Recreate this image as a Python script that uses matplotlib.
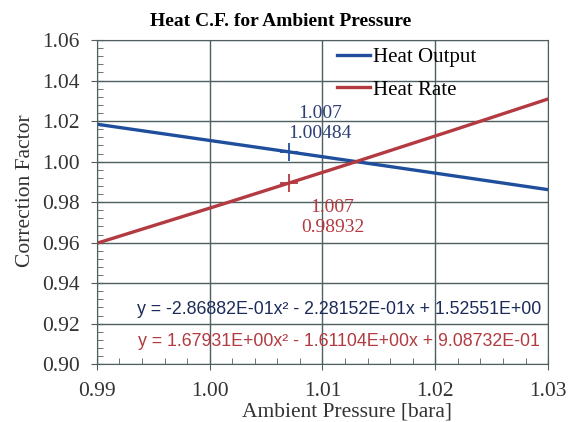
import numpy as np
import matplotlib.pyplot as plt
from matplotlib.ticker import MultipleLocator

pressure = [0.99, 1.00, 1.01, 1.02, 1.03]
heat_output = [1.01847, 1.01048, 1.00243, 0.99432, 0.98616]
heat_rate = [0.95969, 0.97700, 0.99464, 1.01262, 1.03094]

mark_x = 1.007
mark_output = 1.00484
mark_rate = 0.98932

eq_output = "y = -2.86882E-01x² - 2.28152E-01x + 1.52551E+00"
eq_rate = "y = 1.67931E+00x² - 1.61104E+00x + 9.08732E-01"

blue = '#1f4f9c'
red = '#b33a40'
grid_c = '#4f5f5f'


def main():
    plt.rcParams['font.family'] = ['Liberation Serif', 'DejaVu Serif']
    fig = plt.figure(figsize=(5.8, 4.22), dpi=100)
    ax = fig.add_axes([0.167, 0.137, 0.778, 0.768])

    x = np.linspace(pressure[0], pressure[-1], 200)
    ax.plot(x, np.interp(x, pressure, heat_output), color=blue, lw=2.4, label='Heat Output')
    ax.plot(x, np.interp(x, pressure, heat_rate), color=red, lw=2.4, label='Heat Rate')
    ax.plot([mark_x], [mark_output], marker='+', ms=13, mew=1.3, color=blue)
    ax.plot([mark_x], [mark_rate], marker='+', ms=13, mew=1.3, color=red)

    ax.text(1.0098, 1.0240, '1.007', color='#2d3f77', fontsize=14, ha='center', va='center')
    ax.text(1.0098, 1.0141, '1.00484', color='#2d3f77', fontsize=14, ha='center', va='center')
    ax.text(1.0109, 0.9775, '1.007', color=red, fontsize=14, ha='center', va='center')
    ax.text(1.0109, 0.9677, '0.98932', color=red, fontsize=14, ha='center', va='center')

    ax.text(1.0115, 0.9272, eq_output, color='#1d2b5a', fontsize=12.8, ha='center', va='center',
            family='Liberation Sans')
    ax.text(1.0115, 0.9114, eq_rate, color=red, fontsize=12.8, ha='center', va='center',
            family='Liberation Sans')

    ax.set_xlim(0.99, 1.03)
    ax.set_ylim(0.90, 1.06)
    ax.xaxis.set_major_locator(MultipleLocator(0.01))
    ax.xaxis.set_minor_locator(MultipleLocator(0.002))
    ax.yaxis.set_major_locator(MultipleLocator(0.02))
    ax.yaxis.set_minor_locator(MultipleLocator(0.004))
    ax.xaxis.set_major_formatter(plt.FormatStrFormatter('%.2f'))
    ax.yaxis.set_major_formatter(plt.FormatStrFormatter('%.2f'))
    ax.tick_params(which='major', direction='inout', length=9, color=grid_c,
                   labelsize=15.5, labelcolor='#333333')
    ax.tick_params(axis='y', which='major', pad=8)
    ax.tick_params(axis='x', which='major', pad=8)
    ax.tick_params(which='minor', direction='in', length=4, color=grid_c)
    ax.grid(True, which='major', color=grid_c, lw=1.0)
    for s in ax.spines.values():
        s.set_color(grid_c)

    ax.set_title('Heat C.F. for Ambient Pressure', fontsize=14, fontweight='bold', pad=10, x=0.408)
    ax.set_xlabel('Ambient Pressure [bara]', fontsize=15.5, labelpad=0, color='#333333')
    ax.xaxis.set_label_coords(0.554, -0.118)
    ax.set_ylabel('Correction Factor', fontsize=15.5, color='#333333')
    ax.yaxis.set_label_coords(-0.137, 0.534)
    ax.legend(loc='upper left', bbox_to_anchor=(0.49, 1.035), frameon=False, fontsize=15,
              handlelength=1.6, handletextpad=0.15, labelspacing=0.62)

    fig.savefig('out.png')


if __name__ == "__main__":
    main()
